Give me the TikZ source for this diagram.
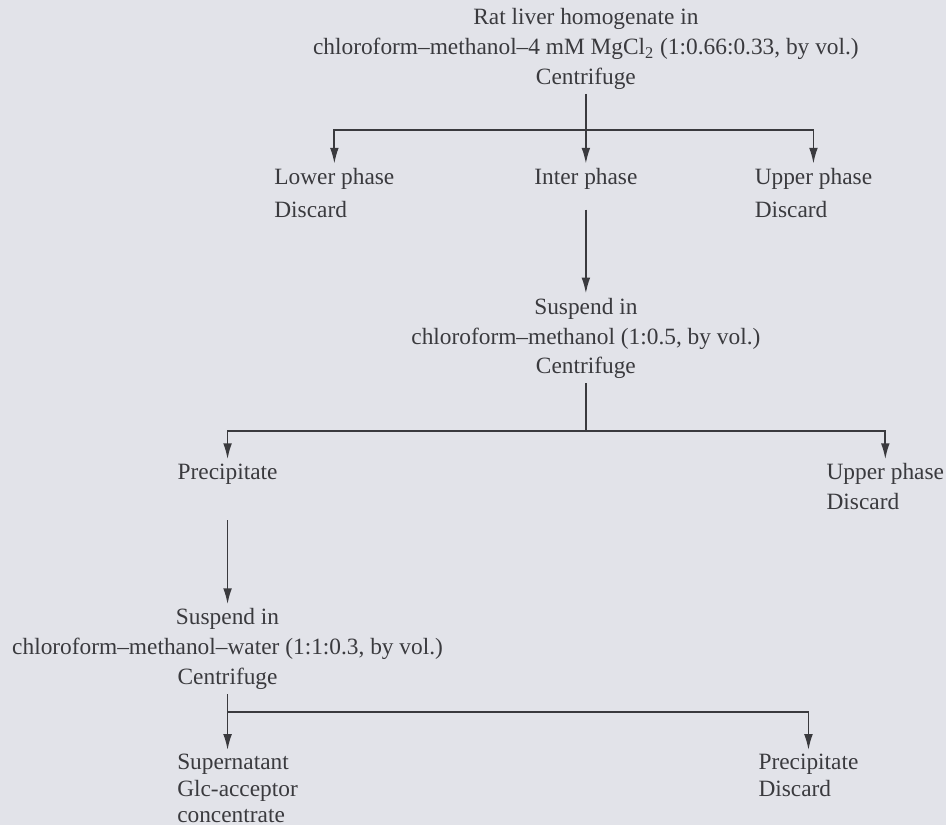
\documentclass[tikz,border=0pt]{standalone}
\usepackage{fontspec}
\setmainfont{Liberation Serif}
\usetikzlibrary{arrows.meta, positioning}
\definecolor{paperGrey}{RGB}{226,227,233}
\definecolor{inkGrey}{RGB}{58,58,62}
\tikzset{%
  >={Latex[width=4.4pt,length=8pt]},
  % Specifications for style of nodes:
    base/.style = {inner sep=2pt, text=inkGrey, font=\fontsize{11.7}{15}\selectfont},
    stepBlock/.style = {base, align=center},
    phaseBlock/.style = {base, align=left},
    loosePhase/.style = {phaseBlock, font=\fontsize{11.7}{16.5}\selectfont},
    tightPhase/.style = {phaseBlock, font=\fontsize{11.7}{13.2}\selectfont},
    flow/.style = {draw=inkGrey, line width=0.9pt},
}

\begin{document}
\begin{tikzpicture}
  \fill[paperGrey] (0,0) rectangle (474pt,-413.5pt);
  \node (homogenate)    [stepBlock] at (293.5pt,-24.5pt)
   {Rat liver homogenate in \\ chloroform--methanol--4 mM MgCl\textsubscript{2}\ (1:0.66:0.33, by vol.) \\ Centrifuge};
  \node (interPhase)    [stepBlock, below=35pt of homogenate]           {Inter phase};
  \node (lowerPhase)    [loosePhase, below=35pt of homogenate, xshift=-126pt]
                                                                {Lower phase \\ Discard};
  \node (upperPhase1)   [loosePhase, below=35pt of homogenate, xshift=114pt]
                                                                {Upper phase \\ Discard};
  \node (suspendBlock1) [stepBlock, below=50pt of interPhase]
   {Suspend in \\ chloroform--methanol (1:0.5, by vol.) \\ Centrifuge};
  \node (precipitate1)  [phaseBlock, below=38pt of suspendBlock1, xshift=-179.5pt]
                                                                {Precipitate};
  \node (upperPhase2)   [phaseBlock, below=38pt of suspendBlock1, xshift=150pt]
                                                                {Upper phase \\ Discard};
  \node (suspendBlock2) [stepBlock, below=58pt of precipitate1]
   {Suspend in \\ chloroform--methanol--water (1:1:0.3, by vol.) \\ Centrifuge};
  \node (supernatant)   [tightPhase, below=28pt of suspendBlock2, xshift=5pt]
                                                                {Supernatant \\ Glc-acceptor \\ concentrate};
  \node (precipitate2)  [tightPhase, below=28pt of suspendBlock2, xshift=291pt]
                                                                {Precipitate \\ Discard};

  \coordinate[below=18pt of homogenate.south] (auxNode1);
  \coordinate[below=24pt of suspendBlock1.south] (auxNode2);
  \coordinate[below=9pt of suspendBlock2.south] (auxNode3);

  % Specification of lines between nodes
  \draw[flow, ->]      (homogenate) -- (interPhase);
  \draw[flow, ->]      (auxNode1) -| (lowerPhase);
  \draw[flow, ->]      (auxNode1) -| (upperPhase1);
  \draw[flow, ->, shorten <=8pt]  (interPhase) -- (suspendBlock1);
  \draw[flow]          (suspendBlock1) -- (auxNode2);
  \draw[flow, ->]      (auxNode2) -| (precipitate1);
  \draw[flow, ->]      (auxNode2) -| (upperPhase2);
  \draw[flow, ->, shorten <=16pt] (precipitate1) -- (suspendBlock2);
  \draw[flow, ->]      (suspendBlock2) -- (suspendBlock2.south |- supernatant.north);
  \draw[flow, ->]      (auxNode3) -| (precipitate2);
\end{tikzpicture}
\end{document}
